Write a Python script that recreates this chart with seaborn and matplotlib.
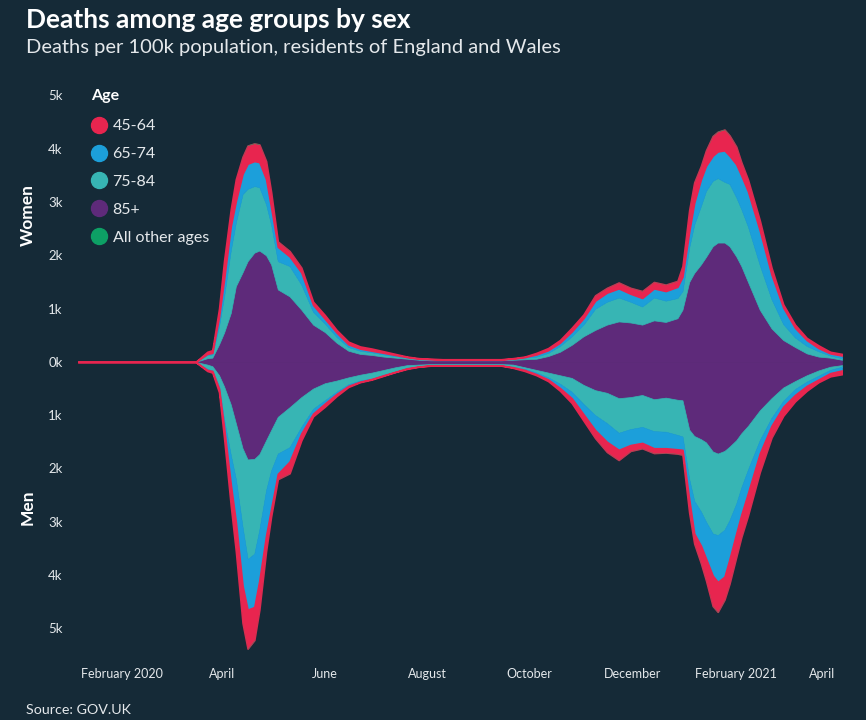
import numpy as np
import pandas as pd
import matplotlib.pyplot as plt
import seaborn as sns
from matplotlib.lines import Line2D

# --- data: deaths per 100k (weekly, extra points near the peaks) ---
dates = [
    "2020-01-06", "2020-01-13", "2020-01-20", "2020-01-27", "2020-02-03", "2020-02-10", "2020-02-17", "2020-02-24",
    "2020-03-02", "2020-03-09", "2020-03-16", "2020-03-23", "2020-03-26", "2020-03-30", "2020-04-02", "2020-04-06", "2020-04-09",
    "2020-04-13", "2020-04-16", "2020-04-20", "2020-04-23", "2020-04-27", "2020-04-30", "2020-05-04", "2020-05-11",
    "2020-05-18", "2020-05-25", "2020-06-01", "2020-06-08", "2020-06-15", "2020-06-22", "2020-06-29", "2020-07-06",
    "2020-07-13", "2020-07-20", "2020-07-27", "2020-08-03", "2020-08-10", "2020-08-17", "2020-08-24", "2020-08-31",
    "2020-09-07", "2020-09-14", "2020-09-21", "2020-09-28", "2020-10-05", "2020-10-12", "2020-10-19", "2020-10-26",
    "2020-11-02", "2020-11-09", "2020-11-16", "2020-11-23", "2020-11-30", "2020-12-07", "2020-12-14", "2020-12-21",
    "2020-12-28", "2020-12-31", "2021-01-04", "2021-01-07", "2021-01-11", "2021-01-14", "2021-01-18", "2021-01-21",
    "2021-01-25", "2021-01-28", "2021-02-01", "2021-02-04", "2021-02-08", "2021-02-15", "2021-02-22", "2021-03-01",
    "2021-03-08", "2021-03-15", "2021-03-22", "2021-03-29", "2021-04-05",
]

women_85 = [0, 0, 0, 0, 0, 0, 0, 0,
            0, 0, 0, 70, 80, 330, 550, 920, 1420,
            1680, 1890, 2050, 2090, 2000, 1830, 1360, 1230,
            980, 700, 560, 360, 210, 150, 130, 100,
            80, 60, 40, 30, 30, 30, 30, 30,
            30, 30, 40, 50, 60, 110, 190, 320,
            480, 600, 700, 760, 740, 700, 780, 750,
            820, 980, 1500, 1670, 1830, 1970, 2170, 2240,
            2240, 2170, 1980, 1800, 1500, 980, 630, 410,
            280, 160, 100, 80, 40]
women_75 = [0, 0, 0, 0, 0, 0, 0, 0,
            0, 0, 0, 60, 60, 350, 680, 1180, 1200,
            1470, 1360, 1250, 1190, 960, 750, 530, 570,
            470, 240, 160, 110, 70, 60, 50, 40,
            30, 20, 10, 10, 10, 10, 10, 10,
            10, 10, 10, 30, 40, 60, 110, 160,
            220, 400, 430, 450, 390, 340, 430, 400,
            380, 350, 650, 910, 1100, 1240, 1230, 1210,
            1140, 1170, 1110, 1070, 1040, 840, 550, 300,
            180, 140, 100, 40, 30]
women_65 = [0, 0, 0, 0, 0, 0, 0, 0,
            0, 0, 0, 20, 30, 170, 320, 450, 400,
            380, 470, 470, 470, 470, 320, 270, 180,
            230, 130, 90, 80, 50, 40, 30, 30,
            20, 10, 10, 10, 5, 5, 5, 5,
            5, 5, 10, 10, 40, 50, 60, 90,
            120, 150, 170, 170, 150, 160, 170, 180,
            210, 270, 300, 410, 500, 470, 470, 500,
            590, 530, 620, 630, 660, 650, 460, 310,
            180, 110, 60, 40, 50]
women_45 = [0, 0, 0, 0, 0, 0, 0, 0,
            0, 0, 0, 40, 50, 150, 350, 320, 410,
            320, 340, 330, 330, 340, 290, 100, 100,
            90, 60, 70, 50, 50, 40, 40, 30,
            20, 10, 10, 10, 5, 5, 5, 5,
            5, 5, 10, 10, 30, 40, 50, 70,
            70, 100, 90, 110, 110, 130, 120, 120,
            110, 200, 400, 380, 250, 290, 370, 370,
            390, 380, 330, 250, 220, 190, 130, 60,
            60, 40, 50, 30, 30]
women_other = [0, 0, 0, 0, 0, 0, 0, 0,
               0, 0, 0, 0, 0, 0, 0, 5, 5,
               10, 10, 10, 10, 10, 10, 5, 5,
               5, 0, 0, 0, 0, 0, 0, 0,
               0, 0, 0, 0, 0, 0, 0, 0,
               0, 0, 0, 0, 0, 0, 0, 0,
               0, 5, 5, 5, 5, 5, 5, 5,
               5, 5, 10, 10, 10, 10, 10, 10,
               10, 10, 10, 10, 5, 5, 5, 0,
               0, 0, 0, 0, 0]

men_85 = [0, 0, 0, 0, 0, 0, 0, 0,
          0, 0, 0, 50, 80, 250, 460, 800, 1150,
          1620, 1830, 1820, 1730, 1470, 1280, 1030, 850,
          660, 500, 400, 350, 290, 240, 200, 150,
          100, 60, 50, 40, 40, 40, 40, 40,
          40, 40, 50, 100, 150, 200, 250, 300,
          430, 530, 580, 680, 660, 620, 700, 670,
          710, 720, 1270, 1390, 1450, 1510, 1680, 1720,
          1670, 1590, 1470, 1340, 1200, 910, 680, 480,
          360, 250, 160, 90, 60]
men_75 = [0, 0, 0, 0, 0, 0, 0, 0,
          0, 0, 0, 80, 80, 210, 620, 950, 1050,
          1480, 1870, 1780, 1420, 940, 760, 690, 750,
          560, 380, 320, 210, 130, 110, 110, 90,
          80, 50, 30, 20, 20, 20, 20, 20,
          20, 20, 40, 30, 50, 90, 160, 260,
          360, 470, 570, 650, 600, 600, 600, 640,
          660, 680, 930, 1220, 1360, 1490, 1540, 1530,
          1480, 1380, 1190, 1020, 820, 560, 370, 250,
          150, 120, 100, 60, 30]
men_65 = [0, 0, 0, 0, 0, 0, 0, 0,
          0, 0, 0, 20, 10, 40, 150, 550, 800,
          1100, 950, 1000, 950, 850, 720, 380, 270,
          120, 90, 60, 40, 30, 20, 10, 10,
          5, 10, 5, 5, 5, 5, 5, 5,
          5, 5, 10, 20, 30, 40, 80, 120,
          190, 280, 350, 320, 300, 300, 320, 310,
          270, 250, 380, 610, 640, 690, 790, 880,
          880, 730, 560, 510, 440, 250, 150, 110,
          110, 80, 70, 60, 70]
men_45 = [0, 0, 0, 0, 0, 0, 0, 0,
          0, 0, 0, 20, 30, 70, 200, 400, 550,
          700, 730, 620, 550, 290, 140, 100, 220,
          130, 50, 60, 40, 20, 10, 10, 10,
          5, 10, 5, 5, 5, 5, 5, 5,
          5, 5, 10, 20, 20, 30, 50, 90,
          120, 150, 190, 190, 110, 100, 90, 80,
          80, 90, 250, 190, 330, 410, 570, 560,
          430, 460, 440, 420, 420, 350, 220, 170,
          120, 90, 50, 60, 70]
men_other = [0, 0, 0, 0, 0, 0, 0, 0,
             0, 0, 0, 0, 0, 0, 0, 5, 5,
             10, 10, 10, 10, 10, 5, 5, 5,
             0, 0, 0, 0, 0, 0, 0, 0,
             0, 0, 0, 0, 0, 0, 0, 0,
             0, 0, 0, 0, 0, 0, 0, 0,
             0, 5, 5, 5, 5, 5, 5, 5,
             5, 5, 10, 10, 10, 10, 10, 10,
             10, 10, 10, 10, 5, 5, 5, 0,
             0, 0, 0, 0, 0]

age_groups = ["45-64", "65-74", "75-84", "85+", "All other ages"]
tick_dates = ["2020-02-01", "2020-04-01", "2020-06-01", "2020-08-01",
              "2020-10-01", "2020-12-01", "2021-02-01", "2021-04-01"]
tick_names = ["February 2020", "April", "June", "August",
              "October", "December", "February 2021", "April"]

# --- style ---
BG = "#152a37"
TXT = "#e4e8eb"
palette = {"45-64": "#e8254f", "65-74": "#1c9fda", "75-84": "#37b5b4",
           "85+": "#5e2a7a", "All other ages": "#0da065"}

sns.set_theme(style="white")
plt.rcParams["font.family"] = ["Lato", "DejaVu Sans"]

fig = plt.figure(figsize=(8.66, 7.2), dpi=100, facecolor=BG)
ax = fig.add_axes([78 / 866, 1 - 655 / 720, 764 / 866, 575.5 / 720])
ax.set_facecolor(BG)

x = pd.to_datetime(dates)


def draw_side(series, sign):
    # stack from the centre line outwards: 85+, 75-84, 65-74, 45-64, others
    base = np.zeros(len(x))
    for name in ["85+", "75-84", "65-74", "45-64", "All other ages"]:
        top = base + sign * np.array(series[name], dtype=float)
        col = palette[name]
        lw = 0 if name == "All other ages" else (1.2 if name == "45-64" else 0.5)
        ax.fill_between(x, base, top, color=col, ec=col, lw=lw)
        base = top


draw_side({"85+": women_85, "75-84": women_75, "65-74": women_65,
           "45-64": women_45, "All other ages": women_other}, 1)
draw_side({"85+": men_85, "75-84": men_75, "65-74": men_65,
           "45-64": men_45, "All other ages": men_other}, -1)

ax.set_xlim(pd.Timestamp("2020-01-06"), pd.Timestamp("2021-04-05"))
ax.set_ylim(-5500, 5300)
sns.despine(ax=ax, left=True, bottom=True)
ax.grid(False)

yt = list(range(-5000, 5001, 1000))
ax.set_yticks(yt)
ax.set_yticklabels([f"{abs(v) // 1000}k" for v in yt])
ax.tick_params(axis="y", length=0, pad=11, labelsize=9.5, labelcolor=TXT)

ax.set_xticks(pd.to_datetime(tick_dates))
ax.set_xticklabels(tick_names)
ax.tick_params(axis="x", length=0, pad=9, labelsize=9, labelcolor=TXT)
ax.get_xticklabels()[-1].set_ha("right")

# legend (heading drawn separately so the gap matches)
fig.text(91 / 866, 1 - 96 / 720, "Age", fontsize=11.5, weight="bold", color="white",
         va="center", ha="left")
handles = [Line2D([0], [0], marker="o", ls="", ms=11.5, mfc=palette[g], mec=palette[g])
           for g in age_groups]
leg = ax.legend(handles, age_groups, loc="upper left",
                bbox_to_anchor=(91 / 866, 1 - 119 / 720), bbox_transform=fig.transFigure,
                frameon=False, fontsize=11.5, labelcolor=TXT,
                handlelength=1.0, handletextpad=0.35, labelspacing=0.86, borderpad=0,
                borderaxespad=0)

# titles and side labels
fig.text(26 / 866, 1 - 20 / 720, "Deaths among age groups by sex", fontsize=19,
         weight="bold", color="white", va="center", ha="left")
fig.text(26 / 866, 1 - 48 / 720, "Deaths per 100k population, residents of England and Wales",
         fontsize=14.5, color=TXT, va="center", ha="left")
fig.text(28 / 866, 1 - 215 / 720, "Women", rotation=90, fontsize=12.5, weight="bold",
         color="white", va="center", ha="center")
fig.text(28 / 866, 1 - 507 / 720, "Men", rotation=90, fontsize=12.5, weight="bold",
         color="white", va="center", ha="center")
fig.text(26 / 866, 1 - 710 / 720, "Source: GOV.UK", fontsize=10.3, color=TXT,
         va="center", ha="left")

fig.savefig("out.png", dpi=100, facecolor=BG)
